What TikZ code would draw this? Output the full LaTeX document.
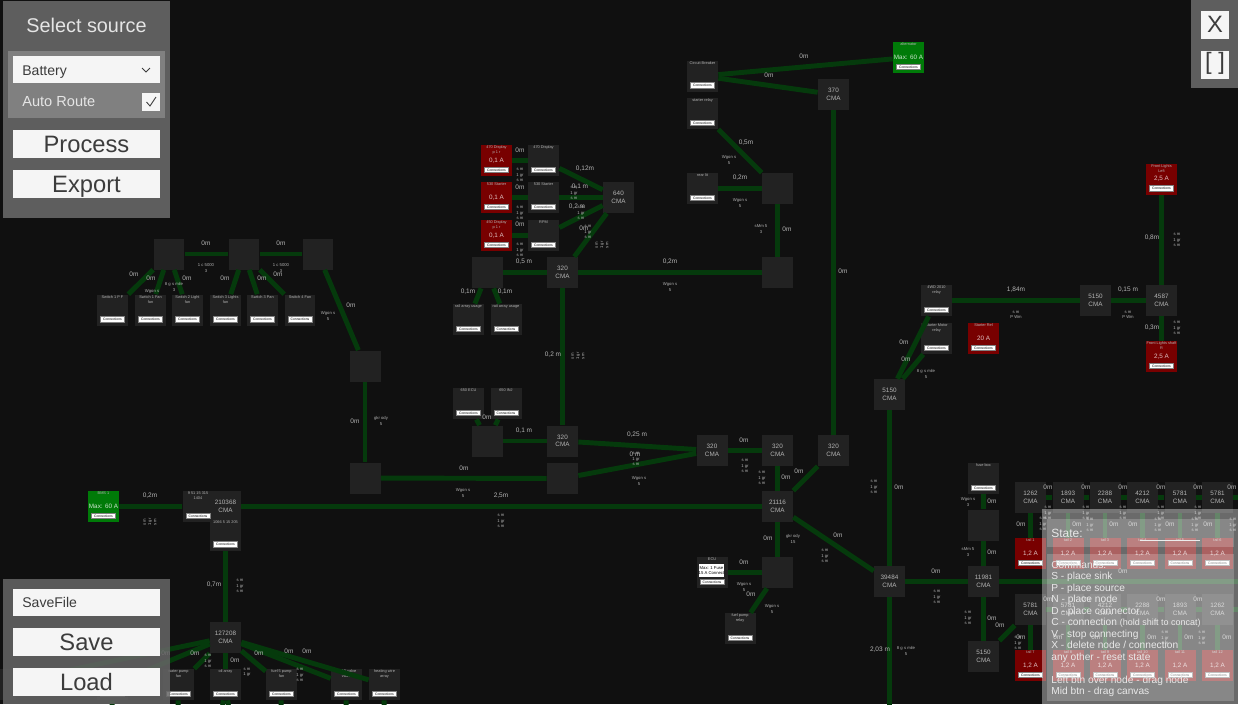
\documentclass[tikz,border=0pt]{standalone}
\usepackage{fontspec}
\setmainfont{Liberation Sans}
\definecolor{canvasbg}{HTML}{101010}
\definecolor{boxgray}{HTML}{222222}
\definecolor{wiregreen}{HTML}{053A0C}
\definecolor{sinkred}{HTML}{780000}
\definecolor{sourcegreen}{HTML}{007A08}
\definecolor{labelgray}{HTML}{B4B4B4}
\definecolor{uitext}{HTML}{3C3C3C}
\tikzset{
  boxbase/.style={inner sep=0pt, minimum size=0.62cm, text=labelgray, align=center, font=\fontsize{3.6}{4.3}\selectfont},
  cmabox/.style={boxbase, fill=boxgray},
  sinkbox/.style={boxbase, fill=boxgray},
  redbox/.style={boxbase, fill=sinkred, text=white!75!sinkred},
  greenbox/.style={boxbase, fill=sourcegreen, text=white!80!sourcegreen},
  sinktitle/.style={inner sep=0pt, align=center, anchor=north, text=labelgray, font=\fontsize{2.2}{2.7}\selectfont},
  connbtn/.style={fill=white, draw=gray, line width=0.2pt, inner sep=0pt, minimum width=0.48cm, minimum height=0.11cm, text=black, font=\fontsize{1.9}{2.2}\selectfont},
  wire/.style={draw=wiregreen, line width=2.8pt},
  lenlabel/.style={inner sep=0pt, text=labelgray, font=\fontsize{3.7}{4.5}\selectfont},
  gaugelabel/.style={inner sep=0pt, align=center, text=labelgray, font=\fontsize{2.4}{3}\selectfont},
  uibtn/.style={inner sep=0pt, text=uitext, text height=0.72em, text depth=0pt, font=\fontsize{13.5}{15}\selectfont}
}
\newcommand{\sinkparts}[2]{
  \node[sinktitle] (#1title) at ([yshift=-0.02cm]#1.north) {#2};
  \node[connbtn] (#1btn) at ([yshift=0.13cm]#1.south) {Connections};
}
\begin{document}
\begin{tikzpicture}[x=0.02cm, y=-0.02cm]
  \useasboundingbox (0,0) rectangle (1238,704);
  \fill[canvasbg] (0,0) rectangle (1238,704);

  % plain nodes and CMA nodes
  \foreach \n/\x/\y/\t in {
    jA/169/254/, jB/244/254/, jC/318/254/, jD/365/366/, jE/365/478/, jF/562.5/478.5/,
    jG/487.5/441/, jH/487.5/272.5/, jI/777.5/188.5/, jJ/777.5/272.5/, jK/777.5/572.5/, jL/983.5/525/,
    cA/562.5/441/320\\CMA, cB/712/450.5/320\\CMA, cC/777.5/450.5/320\\CMA, cD/833.5/450.5/320\\CMA,
    cE/777.5/506.5/21116\\CMA, cF/889.5/581.5/39484\\CMA, cG/983.5/581.5/11981\\CMA, cH/983.5/656.5/5150\\CMA,
    cI/833.5/94.5/370\\CMA, cJ/562.5/272.5/320\\CMA, cK/618.5/197.5/640\\CMA, cL/889.5/394.5/5150\\CMA,
    cM/1095.5/300.5/5150\\CMA, cN/1161.5/300.5/4587\\CMA, cO/225.5/637.5/127208\\CMA, cP/225.5/506.5/210368\\CMA,
    tA/1030.5/497.5/1262\\CMA, tB/1068/497.5/1893\\CMA, tC/1105/497.5/2288\\CMA,
    tD/1142.5/497.5/4212\\CMA, tE/1180/497.5/5781\\CMA, tF/1217.5/497.5/5781\\CMA,
    uA/1030.5/609.5/5781\\CMA, uB/1068/609.5/5781\\CMA, uC/1105/609.5/4212\\CMA,
    uD/1142.5/609.5/2288\\CMA, uE/1180/609.5/1893\\CMA, uF/1217.5/609.5/1262\\CMA, sAd/0.5/684.5/}
    \node[cmabox] (\n) at (\x,\y) {\t};

  % sinks
  \foreach \n/\x/\y/\t in {
    sA/112.5/310/Switch 1 P F, sB/150.5/310/Switch 1 Fan\\fan, sC/187.5/310/Switch 2 Light\\fan,
    sD/225.5/310/Switch 3 Lights\\fan, sE/262.5/310/Switch 3 Pan, sF/300/310/Switch 4 Fan,
    sG/543.5/160.5/470 Display, sH/543.5/197.5/530 Starter, sI/543.5/235.5/RPM,
    sJ/468.5/319.5/rail array usage, sK/506/319.5/rail array usage,
    sL/468.5/403.5/650 ECU, sM/506/403.5/650 INJ,
    sN/702.5/76/Circuit Breaker, sO/702.5/113.5/starter relay, sP/702.5/188.5/rear lit,
    sQ/712/572.5/ECU, sR/740/628.5/fuel pump\\relay,
    sS/936.5/300.5/4WD 2010\\relay, sT/936.5/338.5/Starter Motor\\relay, sU/983.5/478.5/fuse box,
    sV/198/506.5/9 51 15 315\\1404, sW/225.5/535/1066 5 15 205,
    sX/178.5/684.5/water pump\\fan, sY/225.5/684.5/oil array, sZ/281.5/684.5/fuel 5 pump\\fan,
    sAa/346.5/684.5/fuel 5 valve\\valve, sAb/384.5/684.5/heating wire\\array,
    sAc/112.5/684.5/horn}{
    \node[sinkbox] (\n) at (\x,\y) {};
    \sinkparts{\n}{\t}
  }

  % loads
  \foreach \n/\x/\y/\a/\t in {
    {rA/496.5/160.5/0,1 A/470 Display\\p 1 r}, {rB/496.5/197.5/0,1 A/530 Starter}, {rC/496.5/235.5/0,1 A/450 Display\\p 1 r},
    {rD/983.5/338.5/20 A/Starter Rel}, {rE/1161.5/179/2,5 A/Front Lights\\Left}, {rF/1161.5/356.5/2,5 A/Front Lights shaft\\R},
    {rG/1030.5/553.5/1,2 A/tail 1}, {rH/1068/553.5/1,2 A/tail 2}, {rI/1105/553.5/1,2 A/tail 3},
    {rJ/1142.5/553.5/1,2 A/tail 4}, {rK/1180/553.5/1,2 A/tail 5}, {rL/1217.5/553.5/1,2 A/tail 6},
    {rM/1030.5/665.5/1,2 A/tail 7}, {rN/1068/665.5/1,2 A/tail 8}, {rO/1105/665.5/1,2 A/tail 9},
    {rP/1142.5/665.5/1,2 A/tail 10}, {rQ/1180/665.5/1,2 A/tail 11}, {rR/1217.5/665.5/1,2 A/tail 12}}{
    \node[redbox] (\n) at (\x,\y) {\a};
    \sinkparts{\n}{\t}
  }

  % sources
  \foreach \n/\x/\y/\t in {gA/908.5/57.5/alternator, gB/103.5/506.5/BMS 1}{
    \node[greenbox] (\n) at (\x,\y) {Max: 60 A};
    \sinkparts{\n}{\t}
  }

  % free ends of the wires
  \foreach \n/\x/\y in {eA/889.5/710, eB/1245/581.5, eC/1245/497.5, eD/1245/609.5, eE/178/710, eF/222/710, eG/229/710, eH/281/710, eI/346/710, eJ/384/710, eK/112/710}
    \coordinate (\n) at (\x,\y);

  % wires
  \foreach \a/\b in {
    jA/jB, jB/jC, jA/sA, jA/sB, jA/sC, jB/sD, jB/sE, jB/sF, jC/jD, jD/jE, jE/jF,
    rA/sG, rB/sH, rC/sI, sG/cK, sH/cK, sI/cK, cK/cJ, cJ/jH, cJ/jJ, jH/sJ, jH/sK, cJ/cA,
    jG/cA, jG/sL, jG/sM, cA/cB, jF/cB, cB/cC, cC/cE, cD/cE, cD/cI,
    sN/cI, sN/gA, sO/jI, sP/jI, jI/jJ,
    cE/cP, gB/sV, cE/jK, jK/sQ, jK/sR, cE/cF, cF/cG, cF/cL, cF/eA, cL/sS, cL/sT,
    sS/cM, cM/cN, cN/rE, cN/rF, cG/jL, jL/sU, cG/cH, cH/uA, cG/eB,
    tA/tB, tB/tC, tC/tD, tD/tE, tE/tF, tF/eC, uA/uB, uB/uC, uC/uD, uD/uE, uE/uF, uF/eD,
    tA/rG, tB/rH, tC/rI, tD/rJ, tE/rK, tF/rL, uA/rM, uB/rN, uC/rO, uD/rP, uE/rQ, uF/rR,
    sW/cO, cO/sX, cO/sY, cO/sZ, cO/sAa, cO/sAb, cO/sAc, cO/sAd,
    sX/eE, sY/eF, sY/eG, sZ/eH, sAa/eI, sAb/eJ, sAc/eK}
    \draw[wire] (\a) -- (\b);

  % wire lengths
  \foreach \x/\y/\t [count=\i] in {
    {206/243/0m}, {281/243/0m}, {134/274/0m}, {151/278/0m}, {187/278/0m}, {225/278/0m}, {262/278/0m}, {278/274/0m},
    {351/305/0m}, {355/421/0m}, {520/150/0m}, {520/187/0m}, {520/224.5/0m}, {585/169/0,12m}, {580/187/0,1 m},
    {577/207/0,2 m}, {584/228/0m}, {524/262/0,5 m}, {468/292/0,1m}, {505/292/0,1m}, {553/355/0,2 m}, {524/431/0,1 m},
    {487/417/0m}, {637/435/0,25 m}, {635/454/0 m}, {464/468/0m}, {501/496/2,5m}, {150/496/0,2m}, {214/585/0,7m},
    {195/653/0m}, {235/660/0m}, {259/653/0m}, {289/651/0m}, {307/651/0m}, {166/653/0m},
    {804/56/0m}, {769/75/0m}, {746/143/0,5m}, {740/178/0,2m}, {787/229/0m}, {843/271/0m}, {670/262/0,2m},
    {744/440/0m}, {799/471/0m}, {786/477/0m}, {768/538/0m}, {838/535/0m}, {899/487/0m}, {744/562/0m}, {751/594/0m},
    {936/571/0m}, {880/650/2,03 m}, {904/342/0m}, {906/359/0m}, {1016/290/1,84m}, {1128/290/0,15 m}, {1152/238/0,8m}, {1152/328/0,3m},
    {992/501/0m}, {992/552/0m}, {992/618/0m}, {1000/625/0m}, {1021/524/0m}, {1021/637/0m},
    {1077/524/0m}, {1114/524/0m}, {1133/524/0m}, {1170/524/0m}, {1208/524/0m},
    {1048/487/0m}, {1086/487/0m}, {1123/487/0m}, {1161/487/0m}, {1198/487/0m}, {1232/487/0m}, {1123/571/0m},
    {1048/599/0m}, {1086/599/0m}, {1161/599/0m}, {1198/599/0m},
    {1058/637/0m}, {1096/637/0m}, {1152/637/0m}, {1189/637/0m}, {1227/637/0m}}
    \node[lenlabel] (len\i) at (\x,\y) {\t};

  % wire gauges
  \foreach \x/\y/\t [count=\i] in {
    {152/291/Wgon s}, {174/287/8 g s mile\\3}, {206/268/1 c 5000\\3}, {281/268/1 c 5000\\3}, {328/316/Wgon s\\5}, {381/421/gkr ody\\5},
    {670/287/Wgon s\\5}, {729/160/Wgon s\\5}, {740/203/Wgon s\\5}, {761/229/sMm 5\\3}, {463/493/Wgon s\\5}, {639/481/Wgon s\\5},
    {968/502/Wgon s\\3}, {968/552/sMm 5\\3}, {793/539/gkr ody\\15}, {744/587/Wgon s\\5}, {772/609/Wgon s\\5},
    {906/651/8 g s mile\\5}, {926/374/8 g s mile\\5},
    {520/175/s m\\1 gr\\s m}, {520/213/s m\\1 gr\\s m}, {520/250/s m\\1 gr\\s m}, {574/193/s m\\1 gr\\s m}, {581/213/s m\\1 gr\\s m},
    {588/232/s m\\1 gr\\s m}, {1177/240/s m\\1 gr\\s m}, {1177/328/s m\\1 gr\\s m}, {1016/315/s m\\P Wm}, {1128/315/s m\\P Wm},
    {968/618/s m\\1 gr\\s m}, {240/586/s m\\1 gr\\s m}, {745/466/s m\\1 gr\\s m}, {636/459/s m\\1 gr\\s m},
    {825/556/s m\\1 gr\\s m}, {937/597/s m\\1 gr\\s m}, {874/487/s m\\1 gr\\s m}, {501/521/s m\\1 gr\\s m},
    {762/478/s m\\1 gr\\s m}, {208/661/s m\\1 gr\\s m}, {300/675/s m\\1 gr\\s m}, {247/672/s m\\1 gr},
    {1048/513/s m\\1 gr\\s m}, {1086/513/s m\\1 gr\\s m}, {1123/513/s m\\1 gr\\s m}, {1161/513/s m\\1 gr\\s m}, {1198/513/s m\\1 gr\\s m},
    {1043/524/s m\\1 gr\\s m}, {1090/525/s m\\1 gr\\s m}, {1158/525/s m\\1 gr\\s m}, {1195/525/s m\\1 gr\\s m}, {1233/525/s m\\1 gr\\s m},
    {1018/643/s m\\1 gr\\s m}, {1165/638/s m\\1 gr\\s m}, {1202/638/s m\\1 gr\\s m}}
    \node[gaugelabel] (gauge\i) at (\x,\y) {\t};
  \foreach \x/\y [count=\i] in {150/522, 578/356, 602/245}
    \node[gaugelabel, rotate=90] (gaugerot\i) at (\x,\y) {s m\\1 gr\\s m};

  % garbled fuse label
  \fill[white] (699,564) rectangle (724,577);
  \node[gaugelabel, text=black] (fuselabel) at (711.5,570.5) {Max: 1 Fuse\\15 A Connect};

  % help overlay
  \fill[white, opacity=0.38] (1042,509) rectangle (1238,704);
  \fill[white, opacity=0.2] (1047,519) rectangle (1234,547);
  \fill[white, opacity=0.2] (1047,554) rectangle (1234,701);
  \fill[white!85!gray] (1140,539.5) rectangle (1200,541);
  \node[inner sep=0pt, anchor=west, text=white!82!gray, font=\fontsize{6.8}{7}\selectfont] (statetext) at (1051,533.5) {State:};
  \node[inner sep=0pt, anchor=north west, align=left, text=white!82!gray, font=\fontsize{5.8}{6.55}\selectfont] (helptext) at (1051,560.5) {Commands:\\S - place sink\\P - place source\\N - place node\\D - place connector\\C - connection {\fontsize{5.1}{6.55}\selectfont (hold shift to concat)}\\V - stop connecting\\X - delete node / connection\\any other - reset state\\[6.55pt]Left btn over node - drag node\\Mid btn - drag canvas};

  % top left panel
  \fill[white!37!black] (3,1) rectangle (170,218);
  \fill[white!50!black] (8,51) rectangle (165,118);
  \node[inner sep=0pt, text=white!90!black, font=\fontsize{11.3}{13}\selectfont] (selecttitle) at (86.5,25.5) {Select source};
  \fill[white!96!black] (13,56) rectangle (160,83);
  \node[inner sep=0pt, anchor=west, text=uitext, font=\fontsize{8}{9}\selectfont] (batterytext) at (22,72.5) {Battery};
  \draw[uitext, line width=0.5pt] (142,68) -- (146,72) -- (150,68);
  \node[inner sep=0pt, anchor=west, text=white!90!black, font=\fontsize{8.3}{9}\selectfont] (autoroute) at (22,102) {Auto Route};
  \fill[white!96!black] (142,93) rectangle (160,111);
  \draw[uitext, line width=0.5pt] (146.5,102) -- (150,106) -- (156,97);
  \fill[white!96!black] (13,130) rectangle (160,158);
  \node[uibtn] (processtext) at (86.5,146.5) {Process};
  \fill[white!96!black] (13,170) rectangle (160,198);
  \node[uibtn] (exporttext) at (86.5,186) {Export};

  % bottom left panel
  \fill[white!40!black, opacity=0.85] (3,579) rectangle (170,704);
  \fill[white!96!black] (13,589) rectangle (160,616);
  \node[inner sep=0pt, anchor=west, text=uitext, font=\fontsize{8}{9}\selectfont] (savefile) at (22,602.5) {SaveFile};
  \fill[white!96!black] (13,628) rectangle (160,656);
  \node[uibtn] (savetext) at (86.5,644.5) {Save};
  \fill[white!96!black] (13,668) rectangle (160,696);
  \node[uibtn] (loadtext) at (86.5,684.5) {Load};

  % top right panel
  \fill[white!37!black] (1191,0) rectangle (1238,88);
  \fill[white!96!black] (1201,11) rectangle (1229,39);
  \node[uibtn] (closetext) at (1215,26.5) {X};
  \fill[white!96!black] (1201,51) rectangle (1229,79);
  \node[uibtn] (fulltext) at (1215,63.5) {[ ]};
\end{tikzpicture}
\end{document}
